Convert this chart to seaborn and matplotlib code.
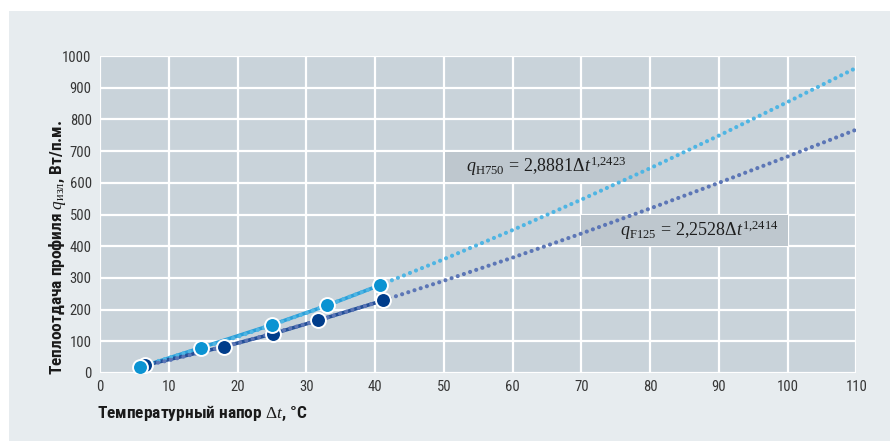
import numpy as np
import pandas as pd
import matplotlib
matplotlib.use("Agg")
import matplotlib.pyplot as plt
from matplotlib.patches import Rectangle
from matplotlib import font_manager as fm
import seaborn as sns

# ---- data ----
h750_dt = [5.8, 14.7, 25.0, 33.0, 40.7]
h750_q = [18, 80, 152, 213, 277]
f125_dt = [6.6, 18.0, 25.2, 31.7, 41.2]
f125_q = [25, 83, 124, 166, 229]

trend_h750_dt = [5.8, 10, 20, 30, 40, 50, 60, 70, 80, 90, 100, 110]
trend_h750_q = [20, 48, 114, 189, 271, 359, 451, 547, 646, 749, 855, 963]
trend_f125_dt = [6.6, 10, 20, 30, 40, 50, 60, 70, 80, 90, 100, 110]
trend_f125_q = [24, 40, 94, 155, 221, 291, 364, 440, 519, 600, 683, 768]

x_ticks = list(range(0, 111, 10))
y_ticks = list(range(0, 1001, 100))

label_h750 = r"$q_{\mathrm{H750}}\,=\,2{,}8881\Delta t^{1{,}2423}$"
label_f125 = r"$q_{\mathrm{F125}}\,=\,2{,}2528\Delta t^{1{,}2414}$"
x_label = "Температурный напор $\\Delta t$, °C"
y_label = "Теплоотдача профиля $q_{\\mathrm{изл}}$, Вт/п.м."

# ---- pick a condensed family with Cyrillic ----
installed = {f.name for f in fm.fontManager.ttflist}
cond = next((n for n in ["Roboto Condensed", "PT Sans Narrow", "Fira Sans Condensed",
                         "IBM Plex Sans Condensed", "Open Sans Condensed"] if n in installed),
            "DejaVu Sans")

# ---- style ----
sns.set_style("white")
plt.rcParams["font.family"] = [cond, "DejaVu Sans"]
plt.rcParams["mathtext.fontset"] = "custom"
plt.rcParams["mathtext.rm"] = "Liberation Serif"
plt.rcParams["mathtext.it"] = "Liberation Serif:italic"
plt.rcParams["mathtext.bf"] = "Liberation Serif:bold"

W, H = 890, 441
fig = plt.figure(figsize=(W / 100, H / 100), dpi=100)
fig.patch.set_facecolor("white")
fig.add_artist(Rectangle((9 / W, 1 - 440.5 / H), (W - 9) / W, (440.5 - 11) / H,
                         transform=fig.transFigure, facecolor="#e7ecef",
                         edgecolor="none", zorder=-10))

ax = fig.add_axes([100 / W, 1 - 373 / H, 756.5 / W, 317 / H])
ax.set_facecolor("#c9d3da")
for s in ax.spines.values():
    s.set_visible(False)
ax.set_xlim(0, 110)
ax.set_ylim(0, 1000)
ax.set_xticks(x_ticks)
ax.set_yticks(y_ticks)
ax.grid(True, color="white", lw=1.6, zorder=0)
ax.set_axisbelow(True)
ax.tick_params(length=0, labelsize=10.5, labelcolor="#363636")
ax.tick_params(axis="x", pad=5)
ax.tick_params(axis="y", pad=6)

# annotation boxes (cover grid)
ax.add_patch(Rectangle((50.2, 602), 29.8, 96, facecolor="#bec7ce", edgecolor="none", zorder=1))
ax.add_patch(Rectangle((70.0, 402), 30.0, 97, facecolor="#bec7ce", edgecolor="none", zorder=1))

dot = (0, (0.01, 1.55))
c_h_marker, c_h_line, c_h_dot = "#0b93d2", "#2b9fd9", "#4fb5e3"
c_f_marker, c_f_line, c_f_dot = "#003d8b", "#234f98", "#5c76b6"

# connecting lines between measured points
sns.lineplot(x=h750_dt, y=h750_q, ax=ax, color=c_h_line, lw=2.6, sort=False, zorder=2)
sns.lineplot(x=f125_dt, y=f125_q, ax=ax, color=c_f_line, lw=2.6, sort=False, zorder=2)
# dotted trend lines
sns.lineplot(x=trend_h750_dt, y=trend_h750_q, ax=ax, color=c_h_dot, lw=3.0,
             linestyle=dot, dash_capstyle="round", sort=False, zorder=3)
sns.lineplot(x=trend_f125_dt, y=trend_f125_q, ax=ax, color=c_f_dot, lw=3.0,
             linestyle=dot, dash_capstyle="round", sort=False, zorder=3)
# markers
sns.scatterplot(x=f125_dt, y=f125_q, ax=ax, color=c_f_marker, s=115,
                edgecolor="white", linewidth=1.4, zorder=4)
sns.scatterplot(x=h750_dt, y=h750_q, ax=ax, color=c_h_marker, s=115,
                edgecolor="white", linewidth=1.4, zorder=5)

ax.text(64.9, 651, label_h750, ha="center", va="center", fontsize=13, color="#1e1e1e", zorder=6)
ax.text(87.2, 449, label_f125, ha="center", va="center", fontsize=13, color="#1e1e1e", zorder=6)

ax.set_xlabel("")
ax.set_ylabel("")
fig.text(97 / W, 1 - 413 / H, x_label, ha="left", va="center", fontsize=12.5,
         fontweight="bold", color="#1a1a1a")
fig.text(58 / W, 1 - 375 / H, y_label, ha="center", va="bottom", rotation=90,
         fontsize=12.5, fontweight="bold", color="#1a1a1a")

fig.savefig("out.png", dpi=100)
